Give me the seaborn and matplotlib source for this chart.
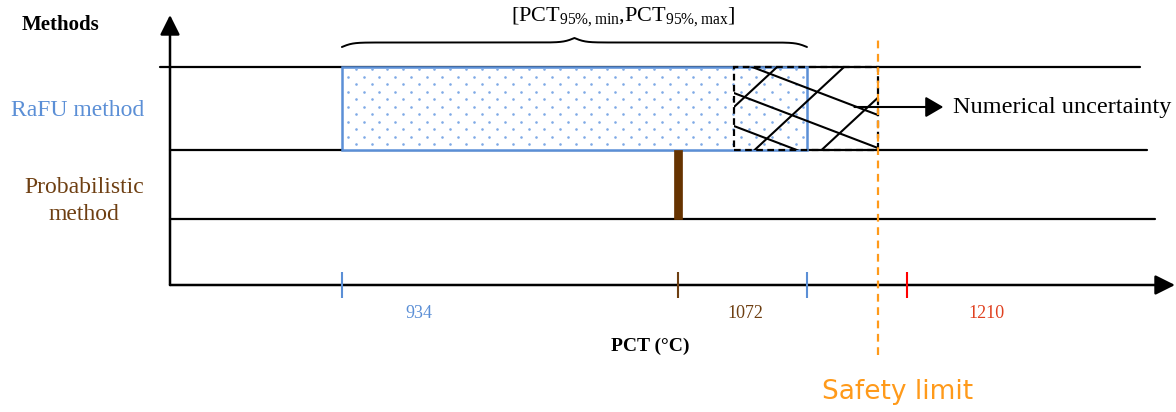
import numpy as np
import matplotlib
matplotlib.use("Agg")
import matplotlib.pyplot as plt
from matplotlib.patches import Rectangle
import seaborn as sns

# ---------------- data ----------------
methods = ["RaFU method", "Probabilistic\nmethod"]
method_colors = ["#5B8FD6", "#6E3F12"]
rafu_interval = [934, 1125]            # [PCT95%,min , PCT95%,max]
numerical_uncertainty = [1095, 1154]   # hatched band
probabilistic_pct = 1072
safety_limit = 1154
tick_positions = [934, 1072, 1125, 1166]
tick_colors = ["#5B8FD6", "#6E3F12", "#5B8FD6", "#FF0000"]
tick_labels = ["934", "1072", "", "1210"]
label_colors = ["#5B8FD6", "#6E3F12", "#5B8FD6", "#E0401F"]
label_offsets_px = [77, 67, 0, 80]
row_bounds = {"RaFU": (135, 218), "Prob": (66, 135)}

# ---------------- style ----------------
sns.set_theme(style="white")
plt.rcParams["font.family"] = ["Liberation Serif", "DejaVu Serif"]
plt.rcParams["mathtext.fontset"] = "custom"
plt.rcParams["mathtext.rm"] = "Liberation Serif"
plt.rcParams["mathtext.it"] = "Liberation Serif:italic"
plt.rcParams["mathtext.bf"] = "Liberation Serif:bold"

W, H = 1176, 412
fig = plt.figure(figsize=(W / 100, H / 100), dpi=100)
ax = fig.add_axes([170 / W, 1 - 285 / H, 1000 / W, 270 / H])
ax.set_xlim(863.4, 1274.1)
ax.set_ylim(0, 270)
ax.set_xticks([])
ax.set_yticks([])
sns.despine(ax=ax, left=True, bottom=True)
ax.patch.set_alpha(0)

black = "black"
orange = "#FF9A1A"
dot_blue = "#7FAAE6"
brown_bar = "#663300"

# axes arrows
arrow_kw = dict(arrowstyle="-|>,head_length=0.6,head_width=0.3", mutation_scale=20,
                lw=1.8, color=black, shrinkA=0, shrinkB=0)
ax.annotate("", xy=(1.005, 0), xytext=(0, 0), xycoords="axes fraction",
            arrowprops=arrow_kw, annotation_clip=False)
ax.annotate("", xy=(0, 1.0), xytext=(0, 0), xycoords="axes fraction",
            arrowprops=arrow_kw, annotation_clip=False)

# row separator lines
rt = row_bounds["RaFU"][1]
rb = row_bounds["RaFU"][0]
pb = row_bounds["Prob"][0]
ax.axhline(rt, xmin=-0.01, xmax=0.97, color=black, lw=1.6, clip_on=False, zorder=2)
ax.axhline(rb, xmin=0, xmax=0.977, color=black, lw=1.6, clip_on=False, zorder=2)
ax.axhline(pb, xmin=0, xmax=0.985, color=black, lw=1.6, clip_on=False, zorder=2)

# RaFU interval (dotted box)
rafu = Rectangle((rafu_interval[0], rb), rafu_interval[1] - rafu_interval[0], rt - rb,
                 facecolor="white", edgecolor=method_colors[0], lw=1.8, zorder=3)
ax.add_patch(rafu)
# dotted texture: staggered grid (15.7 px x 7.5 px)
dx, dy = 6.45, 7.5
rows = np.arange(rt - 2.3, rb, -dy)
px, py = [], []
for i, yy in enumerate(rows):
    start = rafu_interval[0] + (5.75 if i % 2 == 0 else 2.5)
    cols = np.arange(start, rafu_interval[1], dx)
    px.extend(cols)
    py.extend([yy] * len(cols))
sc = ax.scatter(px, py, s=3.5, color=dot_blue, linewidths=0, zorder=3.5)
sc.set_clip_path(rafu)

# numerical uncertainty band (dashed box with crossing lines)
nx0, nx1 = numerical_uncertainty
nu = Rectangle((nx0, rb), nx1 - nx0, rt - rb, fill=False, edgecolor=black,
               ls=(0, (3.0, 2.0)), lw=1.6, zorder=5)
ax.add_patch(nu)
xs = np.array([nx0 - 30, nx1 + 30])
for k in range(3):
    c = rt + 7 - 33 * k
    ln, = ax.plot(xs, c - 0.93 * (xs - nx0), color=black, lw=1.5, zorder=4)
    ln.set_clip_path(nu)
ys = np.array([rb - 60, rt + 60])
for k in range(3):
    x_at_b = nx0 - 19 + 27.5 * k
    ln, = ax.plot(x_at_b + (ys - rb) / 2.26, ys, color=black, lw=1.5, zorder=4)
    ln.set_clip_path(nu)

# probabilistic result
ax.bar(probabilistic_pct, rb - pb, bottom=pb, width=3.3, color=brown_bar,
       edgecolor=brown_bar, linewidth=0.5, zorder=3)

# safety limit line
ax.vlines(safety_limit, -70, 245, colors=orange, lw=1.6, linestyles=(0, (3.5, 2.5)),
          clip_on=False, zorder=6)

# x ticks
ax.vlines(tick_positions, -13, 13, colors=tick_colors, lw=1.5, clip_on=False, zorder=6)
for pos, lab, col, off in zip(tick_positions, tick_labels, label_colors, label_offsets_px):
    if lab:
        ax.annotate(lab, xy=(pos, 0), xytext=(off, -28), textcoords="offset pixels",
                    ha="center", va="center", color=col, fontsize=13, annotation_clip=False)

# curly brace over RaFU interval
bx = np.linspace(rafu_interval[0], (rafu_interval[0] + rafu_interval[1]) / 2, 300)
beta = 0.45
half = 1 / (1 + np.exp(-beta * (bx - bx[0]))) + 1 / (1 + np.exp(-beta * (bx - bx[-1])))
brace_y = np.concatenate((half, half[-2::-1]))
brace_x = np.linspace(rafu_interval[0], rafu_interval[1], brace_y.size)
ax.plot(brace_x, 238 + (brace_y - 0.5) * 9, color=black, lw=1.4, clip_on=False)

# numerical uncertainty pointer
ax.annotate("", xy=(safety_limit + 27, 178), xytext=(safety_limit - 9.5, 178),
            arrowprops=dict(arrowstyle="-|>,head_length=0.6,head_width=0.35", mutation_scale=18,
                            lw=1.5, color=black, shrinkA=0, shrinkB=0),
            annotation_clip=False, zorder=7)

# texts
def ft(x, y, s, **kw):
    fig.text(x / W, 1 - y / H, s, **kw)

ft(60, 25, "Methods", ha="center", va="center", fontsize=15, fontweight="bold", color=black)
ft(78, 111, methods[0], ha="center", va="center", fontsize=17, color=method_colors[0])
ft(84, 201, methods[1], ha="center", va="center", fontsize=17, color=method_colors[1],
   linespacing=1.35)
ft(623, 17, r"[PCT$_{95\%,\mathrm{min}}$,PCT$_{95\%,\mathrm{max}}$]", ha="center", va="center",
   fontsize=16, color=black)
ft(953, 108, "Numerical uncertainty", ha="left", va="center", fontsize=17.5, color=black)
ft(650, 346, "PCT (°C)", ha="center", va="center", fontsize=14, fontweight="bold", color=black)
ft(898, 392, "Safety limit", ha="center", va="center", fontsize=19, color=orange,
   family=["DejaVu Sans"])

fig.savefig("out.png", dpi=100, facecolor="white")
